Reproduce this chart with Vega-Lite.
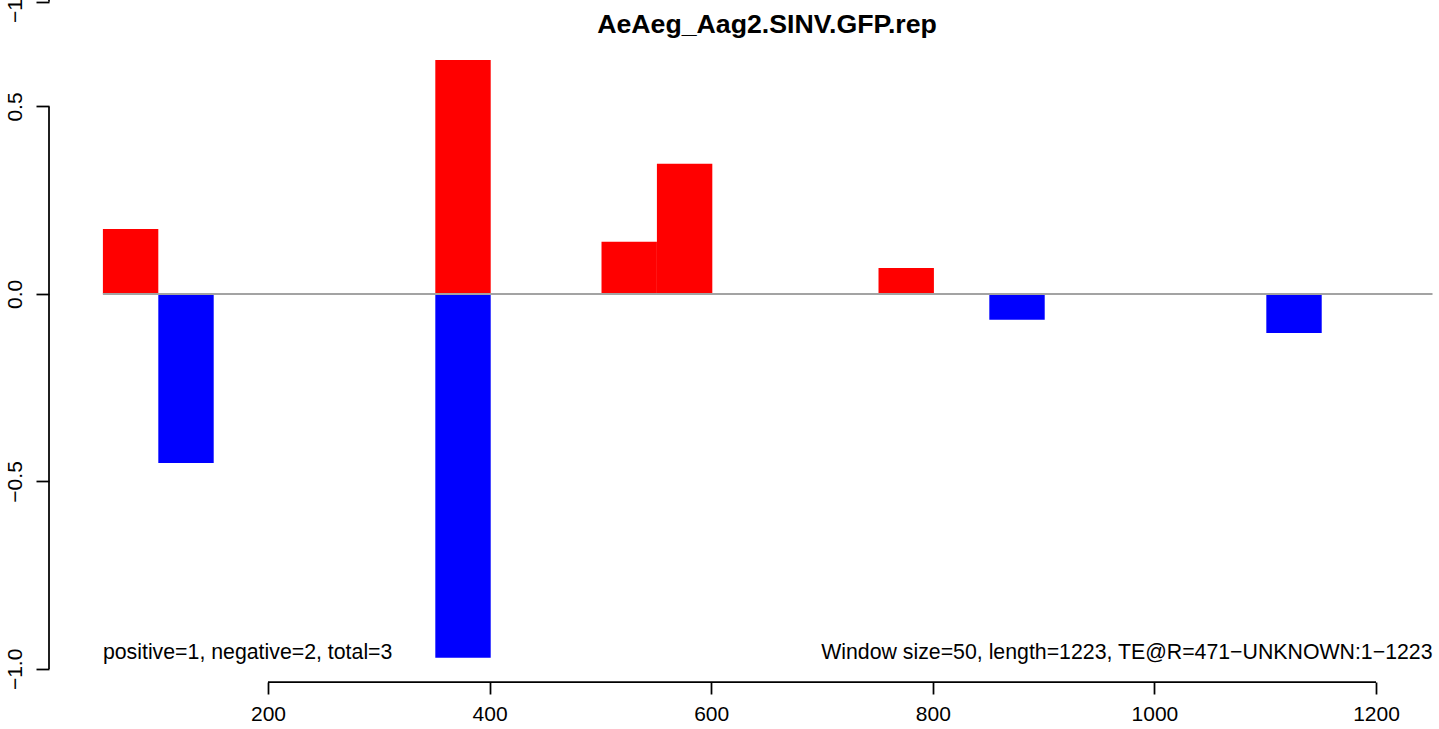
{
  "$schema": "https://vega.github.io/schema/vega-lite/v6.json",
  "width": 1390,
  "height": 682,
  "autosize": {"type": "none"},
  "padding": {"left": 49, "top": 0, "right": 0, "bottom": 47},
  "background": "white",
  "config": {"view": {"stroke": null}, "font": "Liberation Sans"},
  "title": {
    "text": "AeAeg_Aag2.SINV.GFP.rep",
    "frame": "group",
    "anchor": "middle",
    "offset": -79,
    "baseline": "alphabetic",
    "dx": 23,
    "fontSize": 26.7,
    "fontWeight": "bold",
    "font": "Liberation Sans",
    "color": "black"
  },
  "datasets": {
    "bars": [
      {"start": 51, "end": 101, "value": 0.173, "strand": "positive"},
      {"start": 101, "end": 151, "value": -0.451, "strand": "negative"},
      {"start": 351, "end": 401, "value": 0.624, "strand": "positive"},
      {"start": 351, "end": 401, "value": -0.970, "strand": "negative"},
      {"start": 501, "end": 551, "value": 0.139, "strand": "positive"},
      {"start": 551, "end": 601, "value": 0.347, "strand": "positive"},
      {"start": 751, "end": 801, "value": 0.069, "strand": "positive"},
      {"start": 851, "end": 901, "value": -0.069, "strand": "negative"},
      {"start": 1101, "end": 1151, "value": -0.104, "strand": "negative"}
    ],
    "one": [{}]
  },
  "layer": [
    {
      "data": {"name": "bars"},
      "mark": {"type": "rect"},
      "encoding": {
        "x": {
          "field": "start",
          "type": "quantitative",
          "scale": {"domain": [2.35, 1256.85], "nice": false, "zero": false},
          "axis": {
            "values": [200, 400, 600, 800, 1000, 1200],
            "format": "d",
            "domain": false,
            "grid": false,
            "tickSize": 12,
            "tickWidth": 1.75,
            "tickColor": "black",
            "labelFontSize": 21,
            "labelFont": "Liberation Sans",
            "labelColor": "black",
            "labelPadding": 9,
            "labelBaseline": "top",
            "title": null
          }
        },
        "x2": {"field": "end"},
        "y": {
          "field": "value",
          "type": "quantitative",
          "scale": {"domain": [-1.035, 0.784], "nice": false, "zero": false},
          "axis": {
            "values": [-1, -0.5, 0, 0.5, 0.779],
            "labelExpr": "datum.value > 0.7 ? '−1.0' : format(datum.value, '.1f')",
            "domain": false,
            "grid": false,
            "tickSize": 13,
            "tickWidth": 1.75,
            "tickColor": "black",
            "labelFontSize": 21,
            "labelFont": "Liberation Sans",
            "labelColor": "black",
            "labelAngle": 270,
            "labelAlign": "center",
            "labelBaseline": "alphabetic",
            "labelPadding": 15,
            "labelOverlap": false,
            "labelBound": false,
            "title": null
          }
        },
        "y2": {"datum": 0},
        "color": {
          "field": "strand",
          "type": "nominal",
          "scale": {"domain": ["positive", "negative"], "range": ["#FF0000", "#0000FF"]},
          "legend": null
        }
      }
    },
    {
      "data": {"name": "one"},
      "mark": {"type": "rule", "color": "#a3a3a3", "strokeWidth": 2},
      "encoding": {"x": {"datum": 51}, "x2": {"datum": 1251}, "y": {"datum": 0}}
    },
    {
      "data": {"name": "one"},
      "mark": {"type": "rule", "color": "black", "strokeWidth": 1.75},
      "encoding": {"x": {"datum": 200}, "x2": {"datum": 1200}, "y": {"datum": -1.035}}
    },
    {
      "data": {"name": "one"},
      "mark": {"type": "rule", "color": "black", "strokeWidth": 1.75},
      "encoding": {"x": {"datum": 2.35}, "y": {"datum": -1}, "y2": {"datum": 0.5}}
    },
    {
      "data": {"name": "one"},
      "mark": {"type": "rule", "color": "black", "strokeWidth": 1.75},
      "encoding": {"x": {"datum": 2.35}, "y": {"datum": 0.779}, "y2": {"datum": 0.784}}
    },
    {
      "data": {"name": "one"},
      "mark": {"type": "text", "text": "positive=1, negative=2, total=3", "align": "left", "baseline": "alphabetic", "fontSize": 21.3, "font": "Liberation Sans", "color": "black"},
      "encoding": {"x": {"datum": 51}, "y": {"datum": -0.973}}
    },
    {
      "data": {"name": "one"},
      "mark": {"type": "text", "text": "Window size=50, length=1223, TE@R=471−UNKNOWN:1−1223", "align": "right", "baseline": "alphabetic", "fontSize": 21.3, "font": "Liberation Sans", "color": "black"},
      "encoding": {"x": {"datum": 1251}, "y": {"datum": -0.973}}
    }
  ]
}
